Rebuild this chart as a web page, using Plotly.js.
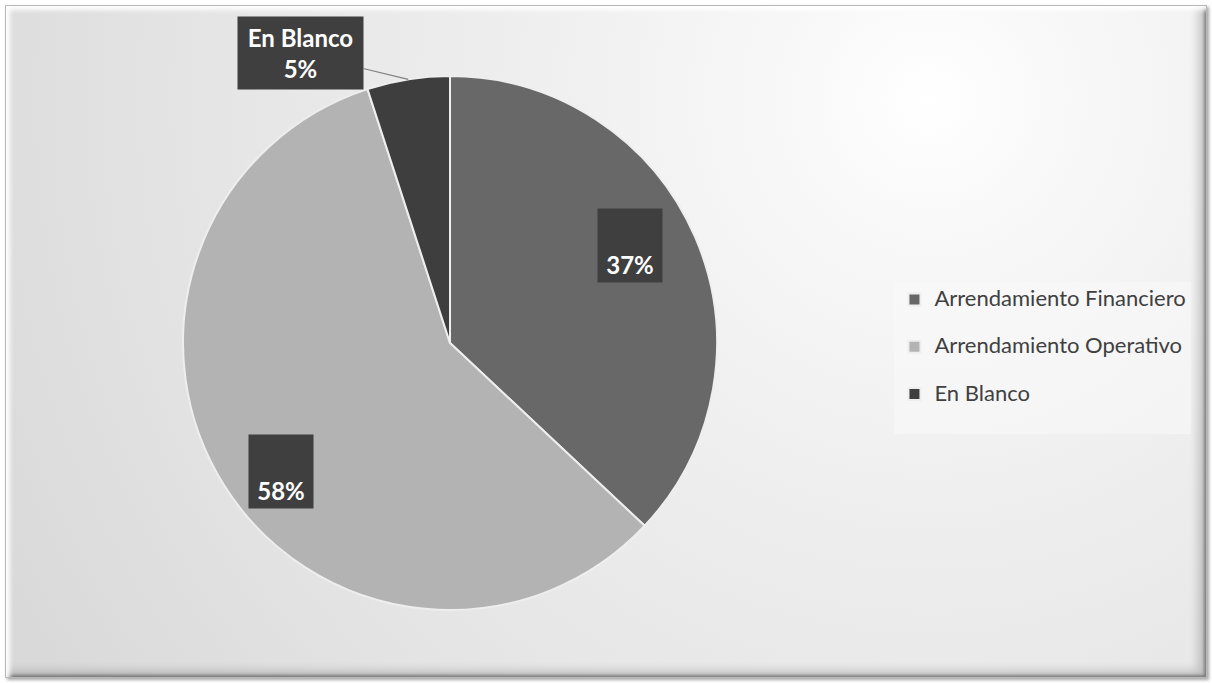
<!DOCTYPE html>
<html>
<head>
<meta charset="utf-8">
<script src="https://cdn.plot.ly/plotly-3.0.1.min.js"></script>
<style>
  html, body { margin:0; padding:0; background:#ffffff; }
  #wrap { position:relative; width:1212px; height:683px; overflow:hidden; }
  #frame {
    position:absolute; left:5px; top:5px; width:1200px; height:671px;
    border:1px solid #b8b8b8;
    background: radial-gradient(circle at 77% 14%, #ffffff 0px, #f9f9f9 120px, #eeeeee 420px, #e4e4e4 750px, #d9d9d9 1050px);
    box-shadow: inset 4px 4px 4px rgba(255,255,255,0.95), inset -8px -6px 10px rgba(0,0,0,0.18), inset -2px -2px 3px rgba(0,0,0,0.35), 2px 2px 3px rgba(0,0,0,0.35);
  }
  #chart { position:absolute; left:0; top:0; width:1212px; height:683px; }
</style>
</head>
<body>
<div id="wrap">
  <div id="frame"></div>
  <div id="chart"></div>
</div>
<script>
// ---- data ----
const categories = ["Arrendamiento Financiero", "Arrendamiento Operativo", "En Blanco"];
const values = [37, 58, 5];
const sliceColors = ["#686868", "#b3b3b3", "#3e3e3e"];

// ---- layout constants ----
const W = 1212, H = 683;
const domX = [0.151, 0.5916];
const domY = [0.1069, 0.8887];
const cx = (domX[0] + domX[1]) / 2 * W;
const cy = (1 - (domY[0] + domY[1]) / 2) * H;
const R = Math.min((domX[1] - domX[0]) * W, (domY[1] - domY[0]) * H) / 2;

const total = values.reduce((a, b) => a + b, 0);
const pct = values.map(v => Math.round(v / total * 100) + "%");

// mid angles (clockwise from 12 o'clock)
let acc = 0;
const mids = values.map(v => { const m = (acc + v / 2) / total * 2 * Math.PI; acc += v; return m; });

const labelFrac = [0.765, 0.795, 1.0];
const labelNudge = -5 * Math.PI / 180;
const annotations = [];
function toPaper(px, py) { return { x: px / W, y: 1 - py / H }; }
const labelFont = { family: "Lato, 'Open Sans', sans-serif", size: 24, color: "#ffffff" };

for (let i = 0; i < 2; i++) {
  const a = mids[i] + labelNudge;
  const px = cx + labelFrac[i] * R * Math.sin(a);
  const py = cy - labelFrac[i] * R * Math.cos(a);
  const p = toPaper(px, py);
  annotations.push({
    xref: "paper", yref: "paper", x: p.x, y: p.y, xanchor: "center", yanchor: "middle",
    text: "<b>" + pct[i] + "</b>", showarrow: false,
    font: labelFont,
    bgcolor: "#3f3f3f", width: 58, height: 67, valign: "bottom", borderpad: 3
  });
}
// outside label for the small slice
{
  const i = 2;
  const px = cx + R * Math.sin(mids[i]);
  const py = cy - R * Math.cos(mids[i]);
  const p = toPaper(px, py);
  annotations.push({
    xref: "paper", yref: "paper", x: p.x, y: p.y,
    text: "<b>" + categories[i] + "<br>" + pct[i] + "</b>",
    showarrow: true, arrowhead: 0, arrowwidth: 1.2, arrowcolor: "#808080",
    ax: -108, ay: -26, standoff: 0,
    font: labelFont,
    bgcolor: "#3f3f3f", width: 119, height: 66, valign: "middle", borderpad: 3
  });
}

const trace = {
  type: "pie",
  labels: categories.map(c => "<span style='font-size:22px'>" + c + "</span><br> "),
  values: values,
  sort: false,
  direction: "clockwise",
  rotation: 0,
  textinfo: "none",
  hoverinfo: "percent",
  marker: { colors: sliceColors, line: { color: "#eeeeee", width: 2 } },
  domain: { x: domX, y: domY }
};

const layout = {
  width: W, height: H,
  margin: { l: 0, r: 0, t: 0, b: 0 },
  paper_bgcolor: "rgba(0,0,0,0)",
  plot_bgcolor: "rgba(0,0,0,0)",
  showlegend: true,
  legend: {
    x: 0.738, xanchor: "left", y: 1 - 282 / H, yanchor: "top",
    bgcolor: "rgba(250,250,250,0.5)", borderwidth: 0,
    font: { family: "Lato, 'Open Sans', sans-serif", size: 17, color: "#404040" },
    valign: "top", itemwidth: 30
  },
  annotations: annotations
};

Plotly.newPlot("chart", [trace], layout, { displayModeBar: false, staticPlot: true });
</script>
</body>
</html>
